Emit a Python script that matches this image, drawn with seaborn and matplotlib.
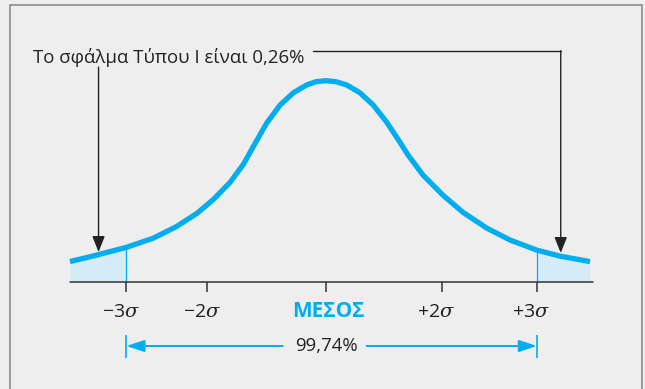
import numpy as np
import pandas as pd
import seaborn as sns
import matplotlib.pyplot as plt
from matplotlib.patches import Rectangle

# curve: position in sigma units, relative height (peak = 1)
sigma_pos = [-3.85, -3.50, -3.00, -2.60, -2.25, -1.94, -1.69, -1.44, -1.24, -1.08,
             -0.89, -0.69, -0.49, -0.29, -0.15, 0.00, 0.15, 0.31, 0.51, 0.71,
             0.91, 1.11, 1.23, 1.46, 1.76, 2.06, 2.42, 2.77, 3.17, 3.52, 3.97]
height = [0.100, 0.128, 0.171, 0.216, 0.274, 0.340, 0.410, 0.495, 0.585, 0.680,
          0.790, 0.879, 0.940, 0.979, 0.995, 1.000, 0.995, 0.979, 0.940, 0.879,
          0.795, 0.695, 0.632, 0.530, 0.430, 0.345, 0.266, 0.207, 0.157, 0.127, 0.100]

tick_pos = [-3.00, -1.79, 0.00, 1.74, 3.17]
tick_labels = [r"$-3\sigma$", r"$-2\sigma$", "ΜΕΣΟΣ", r"$+2\sigma$", r"$+3\sigma$"]
lower_limit = -3.00
upper_limit = 3.17
error_text = "Το σφάλμα Τύπου Ι είναι 0,26%"
coverage_text = "99,74%"

df = pd.DataFrame({"x": sigma_pos, "y": height})

BLUE = "#00aeef"
FILL = "#d5ebf8"
BG = "#eeeeee"
INK = "#222222"

sns.set_style("white")
plt.rcParams["font.family"] = ["Open Sans", "DejaVu Sans"]
plt.rcParams["mathtext.fontset"] = "custom"
plt.rcParams["mathtext.rm"] = "Open Sans"
plt.rcParams["mathtext.it"] = "DejaVu Serif:italic"

fig = plt.figure(figsize=(6.45, 3.89), dpi=100, facecolor=BG)
ax = fig.add_axes([0, 0, 1, 1])
ax.set_facecolor(BG)
ax.set_xlim(-4.902, 4.797)
ax.set_ylim(-0.534, 1.4015)
ax.axis("off")

# frame of the panel
fig.patches.append(Rectangle((10 / 645, -0.05), 632 / 645, 1 - 5 / 389 + 0.05,
                             transform=fig.transFigure, fill=False,
                             edgecolor="#8c8c8c", lw=1.2))

# shaded tails
left = df[df.x <= lower_limit]
right = df[df.x >= upper_limit]
ax.fill_between(left.x, 0, left.y, color=FILL, lw=0)
ax.fill_between(right.x, 0, right.y, color=FILL, lw=0)
ax.vlines([lower_limit, upper_limit],
          0, [left.y.iloc[-1], right.y.iloc[0]], color=BLUE, lw=0.9)

# curve
sns.lineplot(data=df, x="x", y="y", ax=ax, color=BLUE, lw=3.8,
             solid_capstyle="butt", solid_joinstyle="round", sort=False)
ax.set_xlabel("")
ax.set_ylabel("")

# axis line and ticks
ax.plot([df.x.min(), df.x.max() + 0.05], [0, 0], color="#333333", lw=1.1)
ax.vlines(tick_pos, -0.05, 0, color="#333333", lw=1.1)
for p, lab in zip(tick_pos, tick_labels):
    if lab == "ΜΕΣΟΣ":
        ax.text(p + 0.03, -0.149, lab, ha="center", va="center", fontsize=15,
                fontweight="bold", color=BLUE)
    else:
        ax.text(p - 0.08, -0.149, lab, ha="center", va="center", fontsize=14,
                color=INK)

# Type I error callout
ax.text(-4.406, 1.113, error_text, ha="left", va="center", fontsize=13.4,
        color=INK)
head = dict(arrowstyle="-|>,head_length=0.8,head_width=0.32", color=INK,
            lw=1.0, mutation_scale=12, shrinkA=0, shrinkB=0)
ax.annotate("", xy=(-3.42, 0.148), xytext=(-3.42, 1.068), arrowprops=head)
ax.plot([-0.195, 3.53], [1.149, 1.149], color=INK, lw=1.0)
ax.annotate("", xy=(3.53, 0.143), xytext=(3.53, 1.149), arrowprops=head)

# 99,74% range
ax.text(0, -0.32, coverage_text, ha="center", va="center", fontsize=13.4,
        color=INK)
blue_head = dict(arrowstyle="-|>,head_length=0.9,head_width=0.3", color=BLUE,
                 lw=1.4, mutation_scale=12, shrinkA=0, shrinkB=0)
ax.annotate("", xy=(lower_limit, -0.32), xytext=(-0.65, -0.32), arrowprops=blue_head)
ax.annotate("", xy=(upper_limit, -0.32), xytext=(0.61, -0.32), arrowprops=blue_head)
ax.vlines([lower_limit, upper_limit], -0.38, -0.265, color=BLUE, lw=1.2)

fig.savefig("out.png", dpi=100, facecolor=BG)
